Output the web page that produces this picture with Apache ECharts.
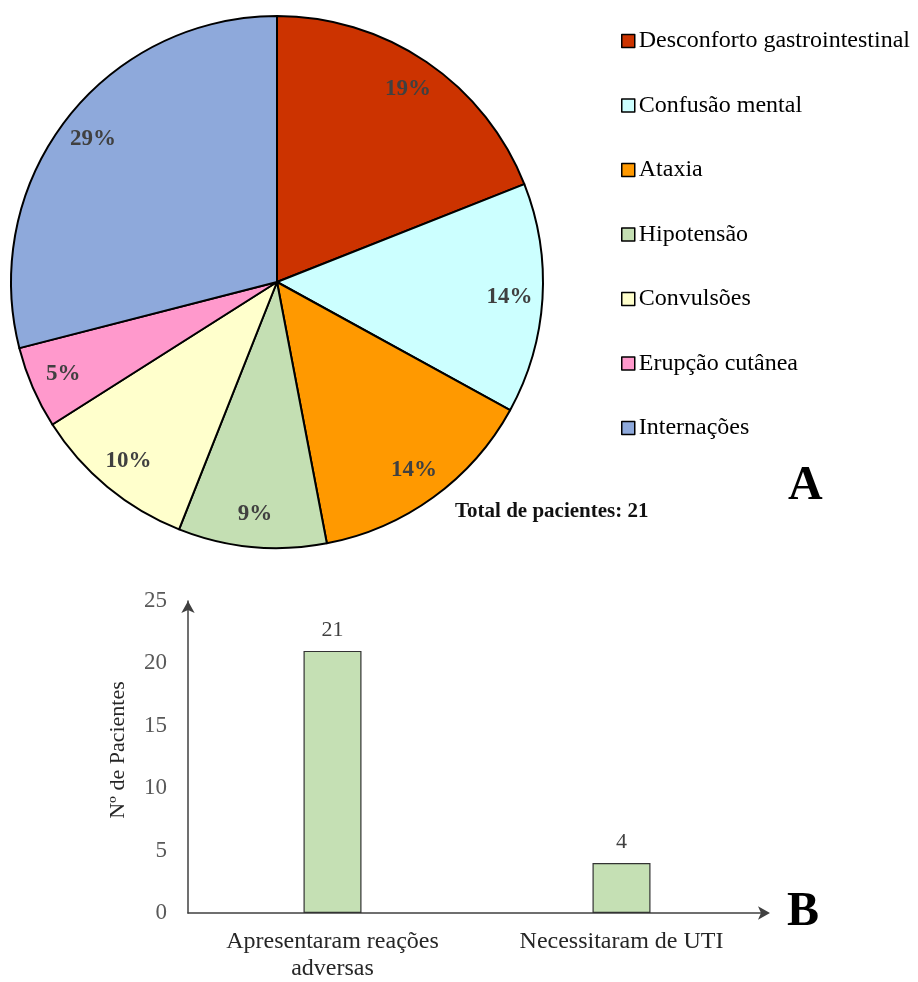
<!DOCTYPE html>
<html>
<head>
<meta charset="utf-8">
<script src="https://cdn.jsdelivr.net/npm/echarts@6/dist/echarts.min.js"></script>
<style>html,body{margin:0;padding:0;background:#fff;}#c{width:918px;height:982px;}</style>
</head>
<body>
<div id="c"></div>
<script>
const pieNames = ['Desconforto gastrointestinal','Confusão mental','Ataxia','Hipotensão','Convulsões','Erupção cutânea','Internações'];
const pieValues = [19, 14, 14, 9, 10, 5, 29];
const pieColors = ['#CC3300','#CCFFFF','#FF9900','#C4DFB3','#FFFFCC','#FF99CC','#8EA9DB'];
const barCategories = ['Apresentaram reações\nadversas','Necessitaram de UTI'];
const barValues = [21, 4];
const yTicks = [0, 5, 10, 15, 20, 25];

const serif = 'Liberation Serif';
const pieData = pieNames.map((n,i)=>({name:n, value:pieValues[i], itemStyle:{color:pieColors[i]}}));

const chart = echarts.init(document.getElementById('c'), null, {renderer:'canvas'});
chart.setOption({
  animation:false,
  backgroundColor:'#fff',
  legend:{
    orient:'vertical', left:616, top:24,
    itemWidth:13, itemHeight:13, itemGap:40.5,
    icon:'rect',
    data: pieNames,
    itemStyle:{borderColor:'#000', borderWidth:1.5},
    textStyle:{fontFamily:serif, fontSize:24, color:'#000', padding:[0,0,0,-1]}
  },
  grid:{left:188, top:601, width:578, height:313},
  xAxis:{
    type:'category', data:barCategories,
    axisLine:{lineStyle:{color:'#404040', width:1.5}, symbol:['none','arrow'], symbolSize:[10,12], symbolOffset:[0,4]},
    axisTick:{show:false},
    axisLabel:{fontFamily:serif, fontSize:24, color:'#262626', margin:15, lineHeight:27}
  },
  yAxis:{
    type:'value', min:yTicks[0], max:yTicks[yTicks.length-1], interval:5,
    axisLine:{show:true, lineStyle:{color:'#404040', width:1.5}, symbol:['none','arrow'], symbolSize:[10,12]},
    axisTick:{show:false},
    splitLine:{show:false},
    axisLabel:{fontFamily:serif, fontSize:23, color:'#595959', margin:21}
  },
  series:[
    {
      type:'pie', center:[277,282], radius:[0,266], startAngle:90, clockwise:true,
      data:pieData, silent:true,
      itemStyle:{borderColor:'#000', borderWidth:2},
      label:{show:false}, labelLine:{show:false}
    },
    {
      type:'pie', center:[277,282], radius:[194,266], startAngle:90, clockwise:true,
      data:pieNames.map((n,i)=>({name:n, value:pieValues[i]})), silent:true,
      itemStyle:{color:'rgba(0,0,0,0)', borderWidth:0},
      label:{show:true, position:'inside', formatter:'{c}%', fontFamily:serif, fontWeight:'bold', fontSize:23, color:'#404040'},
      labelLine:{show:false}, legendHoverLink:false
    },
    {
      type:'bar', data:barValues, barWidth:58,
      itemStyle:{color:'#C5E0B4', borderColor:'#333', borderWidth:1.2},
      label:{show:true, position:'top', distance:10, fontFamily:serif, fontSize:22, color:'#404040'}
    }
  ],
  graphic:[
    {type:'text', x:118, y:750, rotation:Math.PI/2, style:{text:'Nº de Pacientes', font:'22px "Liberation Serif"', fill:'#262626', align:'center', verticalAlign:'middle'}},
    {type:'text', left:455, top:501, style:{text:'Total de pacientes: 21', font:'bold 21px "Liberation Serif"', fill:'#111'}},
    {type:'text', left:788, top:463, style:{text:'A', font:'bold 48px "Liberation Serif"', fill:'#000'}},
    {type:'text', left:787, top:889, style:{text:'B', font:'bold 48px "Liberation Serif"', fill:'#000'}}
  ]
});
</script>
</body>
</html>
